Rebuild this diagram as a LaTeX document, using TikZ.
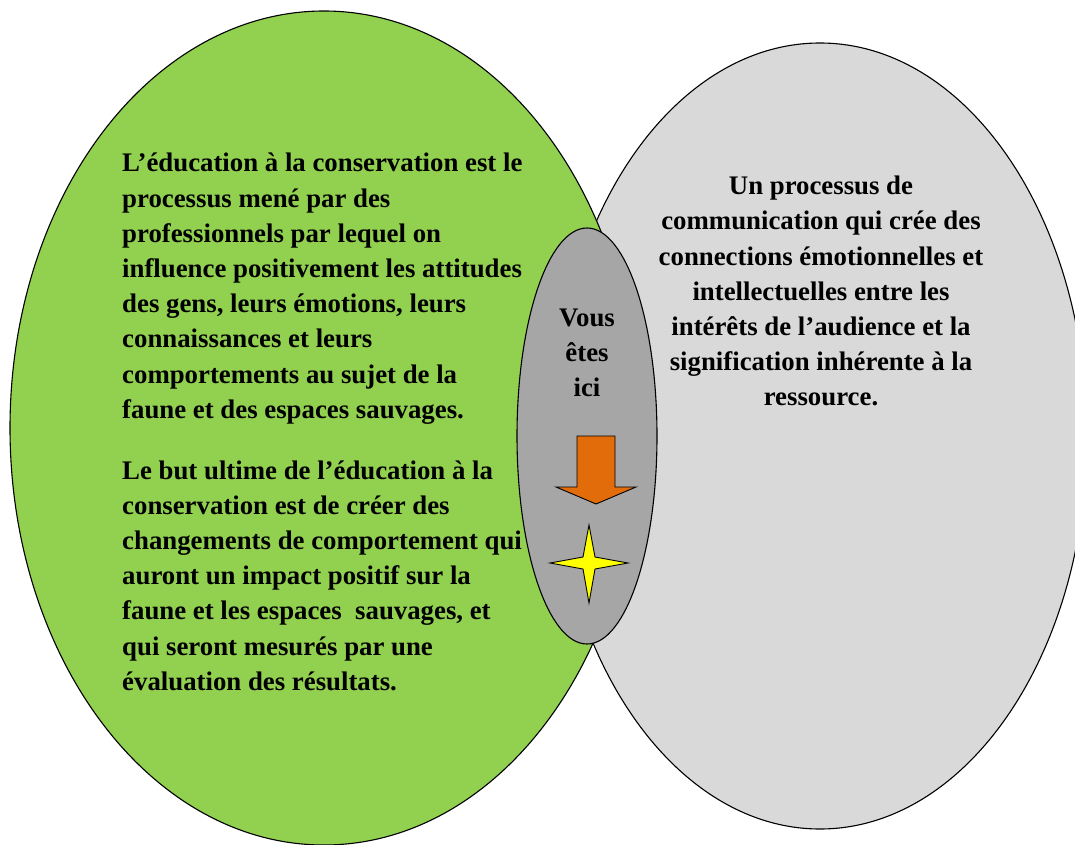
\documentclass[tikz,border=0pt]{standalone}
\usepackage{fontspec}
\setmainfont{Liberation Serif}
\usepackage{tikz}
\usetikzlibrary{positioning}
\usepackage{color}
\definecolor{leafgreen}{HTML}{92D050}
\definecolor{lightgrey}{HTML}{D9D9D9}
\definecolor{midgrey}{HTML}{A6A6A6}
\definecolor{arroworange}{HTML}{E36C0A}
\definecolor{staryellow}{HTML}{FFFF00}
\tikzstyle{bubble} = [draw=black, line width=1.1pt]
\tikzstyle{bodytext} = [inner sep=0pt, text=black, font=\fontsize{26.8}{35.2}\selectfont\bfseries]

\begin{document}
\begin{tikzpicture}[x=1pt,y=-1pt]
            \useasboundingbox (0,0) rectangle (1075,845);
            % the two fields and the overlap
            \filldraw[bubble, fill=lightgrey] (820,436) ellipse [x radius=267, y radius=393];
            \filldraw[bubble, fill=leafgreen] (324,428) ellipse [x radius=314, y radius=417];
            \filldraw[bubble, fill=midgrey] (587,436) ellipse [x radius=70, y radius=208];

            \node (Definition) [bodytext, align=left, anchor=north west] at (122,153)
                {L’éducation à la conservation est le\\processus mené par des\\professionnels par lequel on\\influence positivement les attitudes\\des gens, leurs émotions, leurs\\connaissances et leurs\\comportements au sujet de la\\faune et des espaces sauvages.};
            \node (Goal) [bodytext, align=left, below=36pt of Definition.south west, anchor=north west]
                {Le but ultime de l’éducation à la\\conservation est de créer des\\changements de comportement qui\\auront un impact positif sur la\\faune et les espaces\ \ sauvages, et\\qui seront mesurés par une\\évaluation des résultats.};
            \node (Interpretation) [bodytext, align=center, anchor=north] at (821,176)
                {Un processus de\\communication qui crée des\\connections émotionnelles et\\intellectuelles entre les\\intérêts de l’audience et la\\signification inhérente à la\\ressource.};
            \node (Here) [bodytext, align=center] at (587,353) {Vous\\êtes\\ici};

            % arrow and star
            \filldraw[draw=black, line width=0.9pt, fill=arroworange]
                (577,436) -- (615,436) -- (615,487) -- (636,487) -- (596,504) -- (556,487) -- (577,487) -- cycle;
            \filldraw[draw=black, line width=0.9pt, fill=staryellow]
                (589,525) -- (595,557) -- (628,563) -- (595,569) -- (589,603) -- (583,569) -- (550,563) -- (583,557) -- cycle;
        \end{tikzpicture}
\end{document}
